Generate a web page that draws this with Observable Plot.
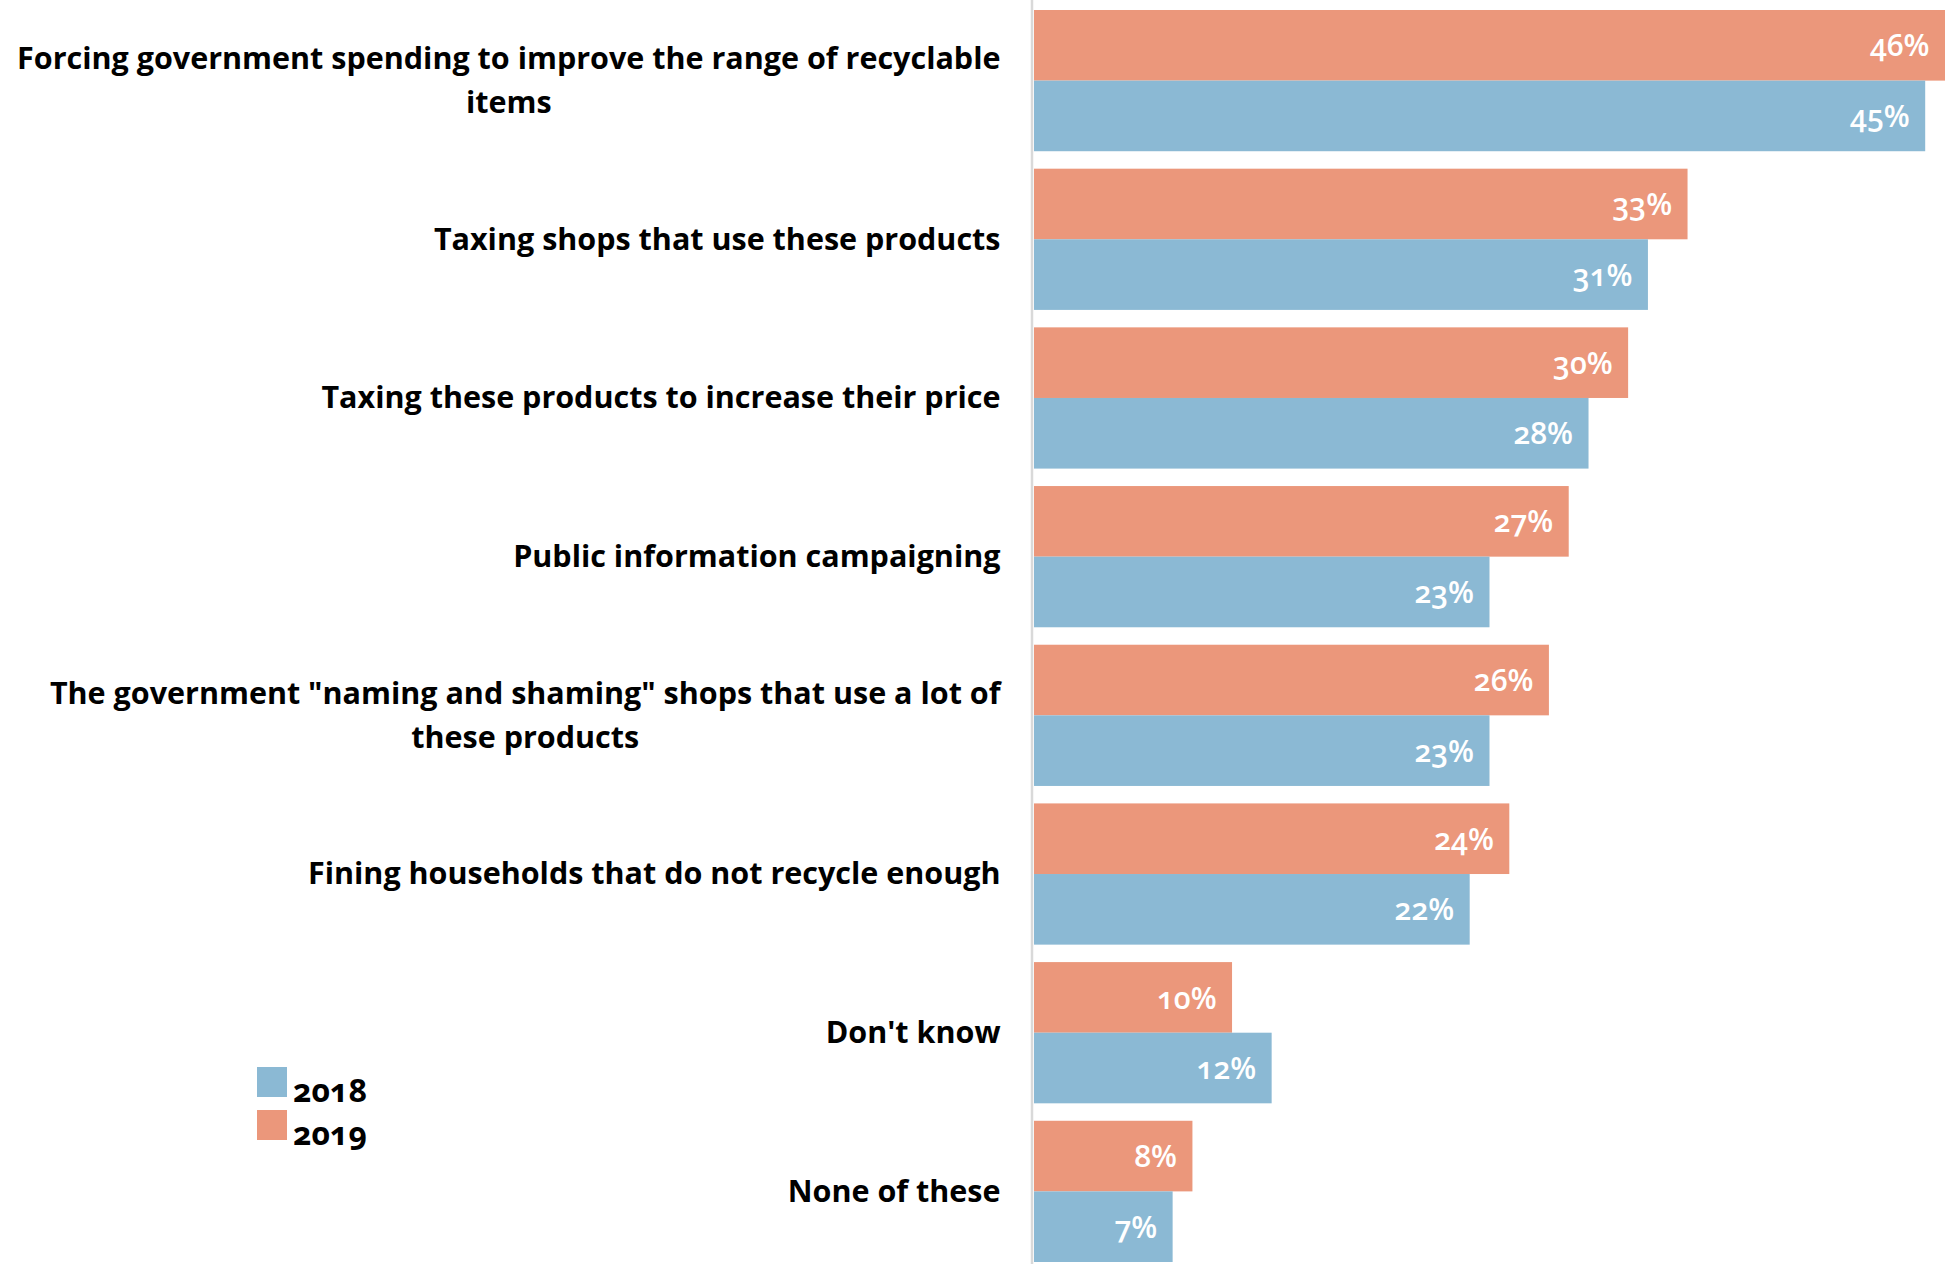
<!DOCTYPE html>
<html><head><meta charset="utf-8">
<script src="https://cdn.jsdelivr.net/npm/d3@7"></script>
<script src="https://cdn.jsdelivr.net/npm/@observablehq/plot@0.6"></script>
<style>
html,body{margin:0;padding:0;background:#fff;}
#wrap{position:relative;width:1953px;height:1264px;overflow:hidden;}
#legend{position:absolute;left:0;top:0;}
.vlab text{font-variant-numeric:oldstyle-nums;font-feature-settings:"onum" 1;}
</style></head><body>
<div id="wrap"></div>
<script>
const categories = [
  "Forcing government spending to improve the range of recyclable\nitems",
  "Taxing shops that use these products",
  "Taxing these products to increase their price",
  "Public information campaigning",
  "The government \"naming and shaming\" shops that use a lot of\nthese products",
  "Fining households that do not recycle enough",
  "Don't know",
  "None of these"
];
const values2019 = [46, 33, 30, 27, 26, 24, 10, 8];
const values2018 = [45, 31, 28, 23, 23, 22, 12, 7];
const years = ["2019", "2018"];
const legendYears = ["2018", "2019"];
const colors = ["#EB977B", "#8BB9D4"];

const data = categories.flatMap((c, i) => [
  {category: c, year: "2019", value: values2019[i]},
  {category: c, year: "2018", value: values2018[i]}
]);

const font = "Open Sans";
const plot = Plot.plot({
  width: 1953, height: 1264,
  marginLeft: 1034, marginRight: 8, marginTop: 10, marginBottom: 2,
  style: {fontFamily: font, background: "#fff", color: "#000"},
  x: {domain: [0, 46], axis: null},
  y: {domain: years, axis: null, padding: 0, round: false},
  fy: {domain: categories, paddingInner: 0.11, paddingOuter: 0, axis: null, label: null, round: false},
  color: {domain: years, range: colors},
  marks: [
    Plot.axisFy({anchor: "left", tickSize: 0, tickPadding: 34, dy: -4, fontSize: 30.5, fontWeight: "bold", label: null, lineHeight: 1.43, fill: "#000", className: "catlab"}),
    Plot.barX(data, {fy: "category", y: "year", x: "value", fill: "year"}),
    Plot.text(data, {fy: "category", y: "year", x: "value", text: d => d.value + "%", textAnchor: "end", dx: -16, dy: 1, fill: "white", fontSize: 30, fontWeight: 600, className: "vlab"})
  ]
});
document.getElementById("wrap").appendChild(plot);

// center the lines of wrapped category labels within their right-aligned block
d3.select(plot).selectAll(".catlab text").each(function() {
  const spans = this.querySelectorAll("tspan");
  if (spans.length > 1) {
    let w = 0;
    spans.forEach(s => { w = Math.max(w, s.getComputedTextLength()); });
    this.setAttribute("text-anchor", "middle");
    spans.forEach(s => s.setAttribute("x", -w / 2));
  }
});

// axis baseline spanning full height
const x0 = plot.scale("x").apply(0);
d3.select(plot).append("line")
  .attr("x1", x0 - 2).attr("x2", x0 - 2)
  .attr("y1", 0).attr("y2", 1264)
  .attr("stroke", "#d9d9d9").attr("stroke-width", 2.5);

// legend
const colorScale = plot.scale("color");
const lg = d3.select("#wrap").append("svg").attr("id", "legend")
  .attr("width", 400).attr("height", 1264);
legendYears.forEach((yr, i) => {
  const top = 1067 + i * 43;
  lg.append("rect").attr("x", 257).attr("y", top).attr("width", 30).attr("height", 30)
    .attr("fill", colorScale.apply(yr));
  lg.append("text").attr("x", 293).attr("y", top + 35).text(yr)
    .attr("font-family", font).attr("font-weight", "bold").attr("font-size", 32).attr("fill", "#000")
    .style("font-variant-numeric", "oldstyle-nums");
});
</script>
</body></html>
